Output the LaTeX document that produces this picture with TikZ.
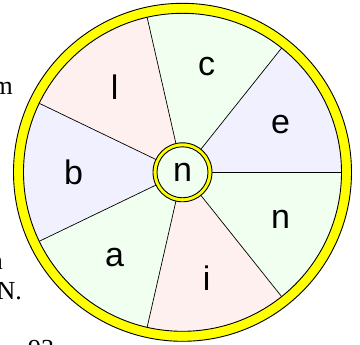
\documentclass[tikz,border=0pt]{standalone}
\usepackage{fontspec}
\setmainfont{Liberation Serif}
\newfontfamily\wheelfont{Liberation Sans}
\usepackage{tikz}
\usetikzlibrary{positioning,calc}
\usepackage{xcolor}
\definecolor{pinkfill}{HTML}{FFF0F0}
\definecolor{grnfill}{HTML}{F0FFF0}
\definecolor{lavfill}{HTML}{F0F0FF}
\definecolor{ringyel}{HTML}{FFFF00}
\tikzset{
  rim/.style     = {draw=black, fill=ringyel, line width=0.9pt},
  spoke/.style   = {draw=black, line width=0.7pt},
  letter/.style  = {inner sep=0pt, font=\wheelfont\fontsize{34}{40}\selectfont},
  margtxt/.style = {inner sep=0pt, font=\fontsize{26}{30}\selectfont},
}

\begin{document}
\begin{tikzpicture}[x=1pt,y=1pt]
\useasboundingbox (-182.5,-172.7) rectangle (177.5,172.3);
\coordinate (O) at (0,0);
% outer ring
\draw[rim] (O) circle (169);
% sectors
\foreach \lab/\col [count=\i from 0] in {e/lavfill,c/grnfill,l/pinkfill,b/lavfill,a/grnfill,i/pinkfill,n/grnfill}{
  \fill[\col] (O) -- (\i*360/7:159) arc ({\i*360/7}:{(\i+1)*360/7}:159) -- cycle;
  \node[letter] (s\i) at ({(\i+0.5)*360/7}:109) {\lab};
}
\draw[black,line width=0.9pt] (O) circle (159);
\foreach \i in {0,...,6}
  \draw[spoke] (O) -- (\i*360/7:159);
% hub
\draw[rim] (O) circle (29.5);
\draw[black,fill=grnfill,line width=0.9pt] (O) circle (25.5);
\node[letter] (hub) at (O) {n};
% cut-off text at the margin
\node[margtxt,anchor=base east] (m1) at (-169.5,77.3) {m};
\node[margtxt,anchor=base east] (m2) at (-179.5,-97.7) {n};
\node[margtxt,anchor=base east] (m3) at (-160.5,-127.7) {N.};
\node[margtxt,anchor=base west] (m4) at (-154.5,-185.3) {93};
\end{tikzpicture}
\end{document}
